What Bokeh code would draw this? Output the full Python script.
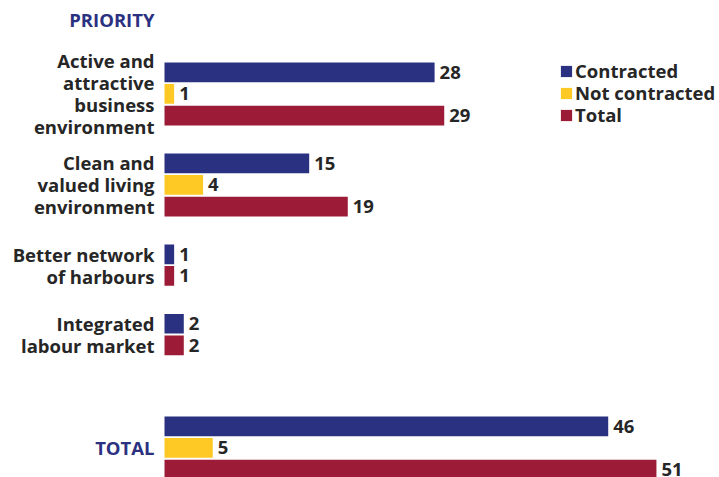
from bokeh.plotting import figure
from bokeh.models import ColumnDataSource, Range1d, Legend, LegendItem
from bokeh.core.properties import value
from bokeh.embed import file_html
from bokeh.resources import INLINE

# ---- data ----
categories = ["Active and\nattractive\nbusiness\nenvironment",
              "Clean and\nvalued living\nenvironment",
              "Better network\nof harbours",
              "Integrated\nlabour market",
              "TOTAL"]
contracted = [28, 15, 1, 2, 46]
not_contracted = [1, 4, None, None, 5]
total = [29, 19, 1, 2, 51]
series_names = ["Contracted", "Not contracted", "Total"]
header = "PRIORITY"

# ---- style ----
NAVY = "#2b3181"
YELLOW = "#fec825"
RED = "#9c1b36"
DARK = "#262626"
colors = [NAVY, YELLOW, RED]
FONT = "Open Sans"
FS = "18.5px"

W, H = 719, 477
PX_PER_UNIT = 9.646
ZERO_X = 164
BAR_H = 19.7
PITCH = 21.6
GROUP_GAP = 26.2
TOTAL_GAP = 59.4
FIRST_TOP = 62
LEG_X = 559
LEG_FIRST_CENTER = 70.5
LEG_PITCH = 22.2
LEG_ITEM_H = 24.5

p = figure(width=W, height=H, output_backend="svg", toolbar_location=None,
           x_range=Range1d(-ZERO_X / PX_PER_UNIT, (W - ZERO_X) / PX_PER_UNIT),
           y_range=Range1d(H, 0), min_border=0)
p.axis.visible = False
p.grid.visible = False
p.outline_line_color = None
p.background_fill_color = "white"

# compute layout positions from the data structure
series_vals = [contracted, not_contracted, total]
data = {i: dict(y=[], v=[], lab=[]) for i in range(3)}
label_y = []
cursor = FIRST_TOP
for g, cat in enumerate(categories):
    if g > 0:
        cursor += TOTAL_GAP if cat == "TOTAL" else GROUP_GAP
    top = cursor
    last_bottom = cursor
    for s in range(3):
        v = series_vals[s][g]
        if v is None:
            continue
        data[s]["y"].append(cursor + BAR_H / 2)
        data[s]["v"].append(v)
        data[s]["lab"].append(str(v))
        last_bottom = cursor + BAR_H
        cursor += PITCH
    label_y.append((top + last_bottom) / 2)
    cursor = last_bottom + (PITCH - BAR_H)

renderers = []
for s in range(3):
    src = ColumnDataSource(data[s])
    r = p.hbar(y="y", left=0, right="v", height=BAR_H, source=src,
               fill_color=colors[s], line_color=None)
    p.text(x="v", y="y", text="lab", source=src, x_offset=5,
           text_align="left", text_baseline="middle",
           text_font=value(FONT), text_font_style="bold",
           text_font_size=FS, text_color=DARK)
    renderers.append(r)

# category labels
cat_src = ColumnDataSource(dict(
    x=[0] * len(categories), y=label_y, t=categories,
    c=[NAVY if c == "TOTAL" else DARK for c in categories]))
p.text(x="x", y="y", text="t", source=cat_src, x_offset=-10,
       text_align="right", text_baseline="middle", text_line_height=0.88,
       text_font=value(FONT), text_font_style="bold",
       text_font_size=FS, text_color="c")

p.text(x=[0], y=[18.5], text=[header], x_offset=-10, text_align="right",
       text_baseline="middle", text_font=value(FONT), text_font_style="bold",
       text_font_size=FS, text_color=NAVY)

# legend: one entry per row so the row pitch can be tighter than the font box
for s in range(3):
    center = LEG_FIRST_CENTER + s * LEG_PITCH
    vy = int(round(H - (center + LEG_ITEM_H / 2)))
    legend = Legend(items=[LegendItem(label=series_names[s], renderers=[renderers[s]])],
                    location=(LEG_X, vy),
                    glyph_width=14, glyph_height=14, label_standoff=2,
                    spacing=0, padding=0, margin=0, label_height=20,
                    label_text_font=FONT, label_text_font_style="bold",
                    label_text_font_size=FS, label_text_color=DARK,
                    border_line_color=None, background_fill_alpha=0)
    p.add_layout(legend)

open("out.html", "w").write(file_html(p, INLINE))
